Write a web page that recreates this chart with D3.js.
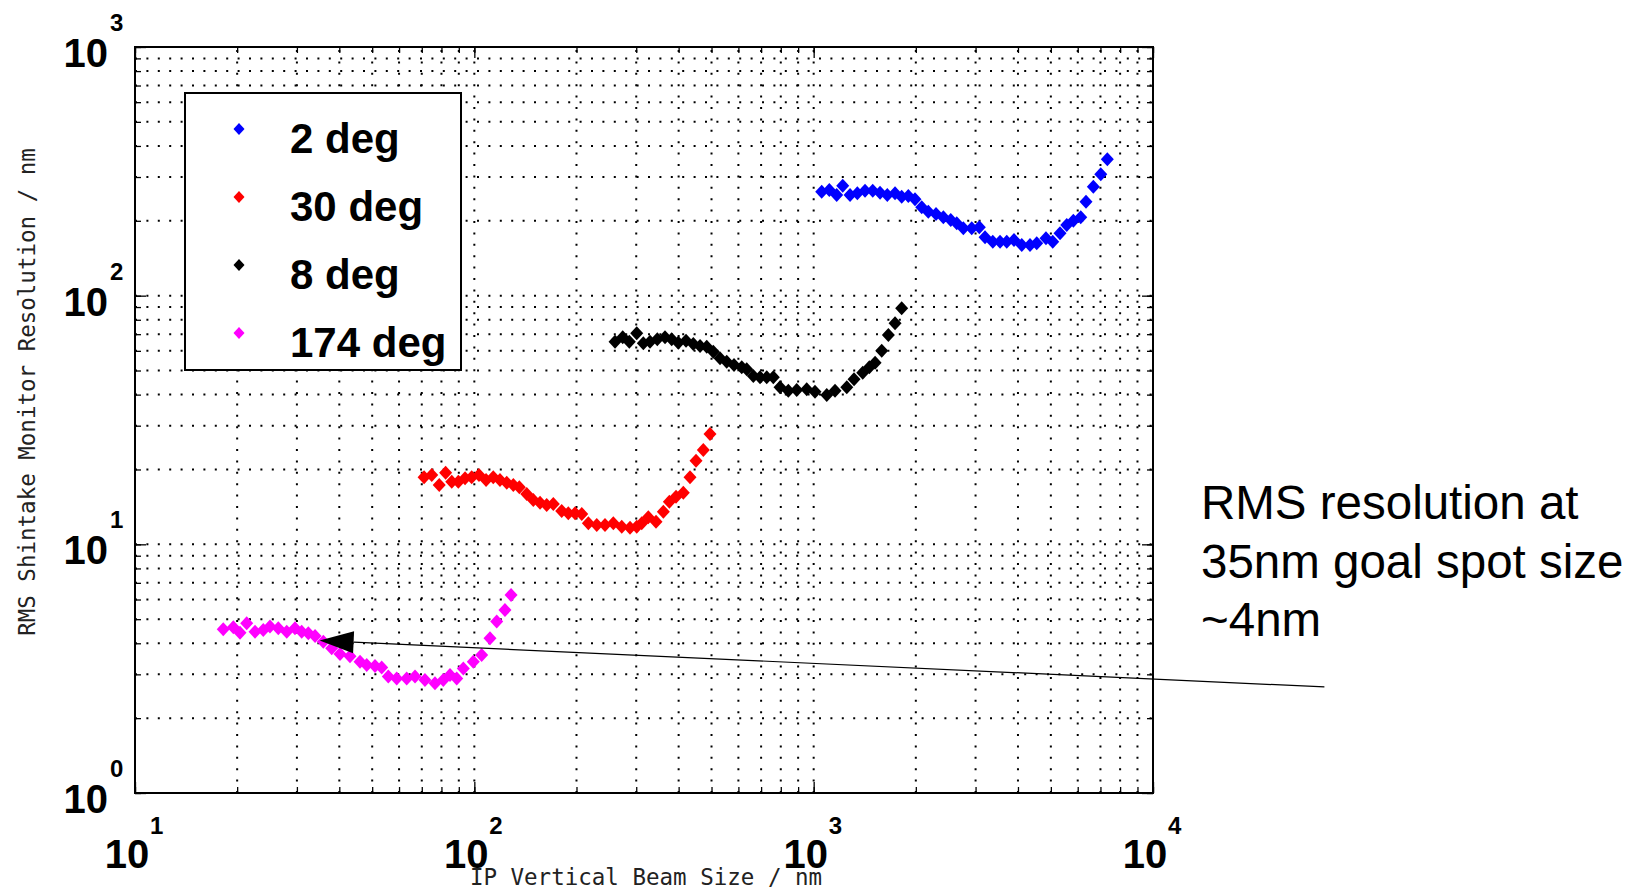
<!DOCTYPE html>
<html>
<head>
<meta charset="utf-8">
<script src="https://cdn.jsdelivr.net/npm/d3@7"></script>
<style>
  body { margin: 0; background: #fff; }
  svg { display: block; }
</style>
</head>
<body>
<div id="chart"></div>
<script>
// values: beam size (nm) vs RMS resolution (nm)
var seriesNames = ["2 deg", "30 deg", "8 deg", "174 deg"];
var seriesColors = ["#0000ff", "#ff0000", "#000000", "#ff00ff"];

var x2deg = [1056, 1112, 1169, 1218, 1280, 1345, 1417, 1493, 1569, 1648, 1737, 1817, 1901, 1989,
  2082, 2177, 2294, 2411, 2535, 2640, 2761, 2923, 3077, 3199, 3372, 3542, 3707, 3894, 4104, 4341,
  4543, 4837, 5064, 5321, 5569, 5825, 6124, 6347, 6671, 7016, 7335];
var y2deg = [261.9, 266.0, 254.0, 276.8, 254.0, 258.0, 264.3, 264.3, 259.5, 254.0, 258.0, 250.0,
  251.6, 244.0, 226.6, 217.6, 213.0, 206.6, 201.6, 195.4, 186.6, 186.6, 188.3, 171.7, 164.8, 164.8,
  164.8, 167.4, 159.8, 159.8, 162.4, 170.1, 164.8, 178.2, 192.4, 200.3, 206.6, 238.7, 274.3, 307.6, 353.5];

var x30deg = [71.1, 74.9, 78.8, 82.3, 85.8, 89.7, 93.9, 98.2, 103.2, 108.3, 113.7, 119.0, 124.6,
  130.3, 135.7, 142.7, 149.2, 156.2, 163.4, 170.9, 180.9, 189.2, 198.1, 207.3, 216.8, 229.5, 242.7,
  256.8, 271.9, 287.6, 301.0, 311.4, 325.6, 343.1, 360.6, 375.6, 393.0, 412.9, 432.1, 450.1, 472.9, 494.9];
var y30deg = [18.60, 19.00, 17.33, 19.42, 17.86, 17.86, 18.43, 18.60, 19.00, 18.14, 18.60, 18.14,
  17.70, 17.33, 16.96, 15.94, 15.08, 14.71, 14.39, 14.53, 13.62, 13.33, 13.33, 13.24, 12.15, 11.96,
  11.96, 12.15, 11.77, 11.67, 11.77, 12.15, 12.85, 12.33, 13.53, 14.84, 15.54, 16.13, 18.60, 21.70,
  23.95, 27.78];

var x8deg = [259.8, 273.7, 286.2, 301.0, 314.8, 329.4, 346.1, 364.7, 381.6, 399.1, 420.6, 441.9,
  462.6, 484.1, 506.0, 529.7, 554.3, 582.5, 613.8, 634.9, 664.0, 695.0, 727.2, 760.5, 795.9, 842.0,
  891.3, 953.9, 1009, 1093, 1156, 1252, 1315, 1395, 1459, 1517, 1587, 1660, 1737, 1817];
var y8deg = [65.30, 68.02, 65.30, 70.57, 64.34, 65.30, 66.76, 68.02, 66.76, 64.70, 65.90, 63.92,
  62.75, 62.35, 59.53, 55.99, 54.26, 52.63, 51.52, 50.57, 47.53, 46.96, 46.96, 46.96, 42.80, 41.48,
  41.75, 42.02, 41.10, 39.86, 41.48, 42.80, 46.09, 48.99, 51.52, 53.76, 60.08, 69.47, 77.42, 88.97];

var x174deg = [18.20, 19.49, 20.39, 21.34, 22.58, 23.88, 24.99, 26.44, 28.00, 29.61, 30.99, 32.42,
  33.93, 35.89, 37.99, 40.19, 43.01, 46.04, 48.18, 50.97, 53.33, 55.78, 59.05, 63.19, 66.87, 71.53,
  76.56, 81.01, 84.78, 88.74, 92.80, 99.30, 105.1, 111.2, 116.4, 123.1, 128.3];
var y174deg = [4.55, 4.64, 4.41, 4.81, 4.45, 4.52, 4.67, 4.60, 4.45, 4.60, 4.45, 4.39, 4.28, 4.06,
  3.82, 3.62, 3.55, 3.37, 3.27, 3.24, 3.20, 2.94, 2.89, 2.89, 2.94, 2.85, 2.76, 2.85, 2.98, 2.89,
  3.17, 3.37, 3.59, 4.19, 4.89, 5.44, 6.26];

// axis decades (exponents of ten)
var xExponents = [1, 2, 3, 4];
var yExponents = [0, 1, 2, 3];
var xTitle = "IP Vertical Beam Size / nm";
var yTitle = "RMS Shintake Monitor Resolution / nm";

// annotation, arrow given in data units
var noteLines = ["RMS resolution at", "35nm goal spot size", "~4nm"];
var arrowTip = [35, 4.1];
var arrowTail = [32000, 2.67];

var W = 1651, H = 894;
var margin = {top: 47, right: 498, bottom: 101, left: 135};

var svg = d3.select("#chart").append("svg")
  .attr("width", W)
  .attr("height", H)
  .style("background", "#fff");

var x = d3.scaleLog()
  .domain([Math.pow(10, xExponents[0]), Math.pow(10, xExponents[xExponents.length - 1])])
  .range([margin.left, W - margin.right]);
var y = d3.scaleLog()
  .domain([Math.pow(10, yExponents[0]), Math.pow(10, yExponents[yExponents.length - 1])])
  .range([H - margin.bottom, margin.top]);

var x0 = x.range()[0], x1 = x.range()[1];
var y0 = y.range()[0], y1 = y.range()[1];

var xMajor = xExponents.map(function(e) { return Math.pow(10, e); });
var yMajor = yExponents.map(function(e) { return Math.pow(10, e); });
var xMinor = x.ticks();
var yMinor = y.ticks();

// dotted grid at every decade step
var grid = svg.append("g").attr("class", "grid")
  .attr("stroke", "#000")
  .attr("stroke-width", 2)
  .attr("stroke-dasharray", "2,9.4");

grid.selectAll(".gx")
  .data(xMinor)
  .enter().append("line")
    .attr("x1", function(d) { return x(d); })
    .attr("x2", function(d) { return x(d); })
    .attr("y1", y0)
    .attr("y2", y1);

grid.selectAll(".gy")
  .data(yMinor)
  .enter().append("line")
    .attr("y1", function(d) { return y(d); })
    .attr("y2", function(d) { return y(d); })
    .attr("x1", x0)
    .attr("x2", x1);

// inward ticks on all four sides
function ticks(axis, tr, vals, len) {
  var g = svg.append("g")
    .attr("transform", tr)
    .call(axis.tickValues(vals).tickSize(-len).tickFormat(""));
  g.select(".domain").remove();
  g.selectAll(".tick line").attr("stroke", "#000").attr("stroke-width", 1.3);
}
[[xMinor, 6], [xMajor, 11]].forEach(function(p) {
  ticks(d3.axisBottom(x), "translate(0," + y0 + ")", p[0], p[1]);
  ticks(d3.axisTop(x), "translate(0," + y1 + ")", p[0], p[1]);
});
[[yMinor, 6], [yMajor, 11]].forEach(function(p) {
  ticks(d3.axisLeft(y), "translate(" + x0 + ",0)", p[0], p[1]);
  ticks(d3.axisRight(y), "translate(" + x1 + ",0)", p[0], p[1]);
});

// frame
svg.append("rect")
  .attr("x", x0).attr("y", y1)
  .attr("width", x1 - x0).attr("height", y0 - y1)
  .attr("fill", "none")
  .attr("stroke", "#000")
  .attr("stroke-width", 2);

// markers
var diamond = "M0,-7L6.5,0L0,7L-6.5,0Z";
var series = [
  {xs: x2deg, ys: y2deg, c: seriesColors[0]},
  {xs: x30deg, ys: y30deg, c: seriesColors[1]},
  {xs: x8deg, ys: y8deg, c: seriesColors[2]},
  {xs: x174deg, ys: y174deg, c: seriesColors[3]}
];
series.forEach(function(s) {
  svg.append("g").selectAll("path")
    .data(s.xs.map(function(v, i) { return [v, s.ys[i]]; }))
    .enter().append("path")
      .attr("d", diamond)
      .attr("transform", function(d) { return "translate(" + x(d[0]) + "," + y(d[1]) + ")"; })
      .attr("fill", s.c);
});

// tick labels, 10 with superscript exponent
var lab = svg.append("g").attr("font-family", "'Liberation Sans', Arial, sans-serif").attr("fill", "#000");
xExponents.forEach(function(e) {
  var px = x(Math.pow(10, e));
  lab.append("text").attr("x", px - 8).attr("y", y0 + 75)
    .attr("text-anchor", "middle").attr("font-size", 40).attr("font-weight", "bold").text("10");
  lab.append("text").attr("x", px + 15).attr("y", y0 + 41)
    .attr("font-size", 24).attr("font-weight", "bold").text(e);
});
yExponents.forEach(function(e) {
  var py = y(Math.pow(10, e));
  lab.append("text").attr("x", x0 - 27).attr("y", py + 20)
    .attr("text-anchor", "end").attr("font-size", 40).attr("font-weight", "bold").text("10");
  lab.append("text").attr("x", x0 - 25).attr("y", py - 16)
    .attr("font-size", 24).attr("font-weight", "bold").text(e);
});

// axis titles
svg.append("text")
  .attr("x", (x0 + x1) / 2 + 2).attr("y", 885)
  .attr("text-anchor", "middle")
  .attr("font-family", "'DejaVu Sans Mono', monospace")
  .attr("font-size", 22.5).attr("fill", "#222")
  .text(xTitle);
svg.append("text")
  .attr("transform", "translate(35,392) rotate(-90)")
  .attr("text-anchor", "middle")
  .attr("font-family", "'DejaVu Sans Mono', monospace")
  .attr("font-size", 22.5).attr("fill", "#222")
  .text(yTitle);

// legend
var leg = svg.append("g").attr("transform", "translate(185,93)");
leg.append("rect")
  .attr("width", 276).attr("height", 277)
  .attr("fill", "#fff").attr("stroke", "#000").attr("stroke-width", 2);
seriesNames.forEach(function(n, i) {
  leg.append("path").attr("d", diamond)
    .attr("transform", "translate(54," + (36 + i * 68) + ") scale(0.85)")
    .attr("fill", seriesColors[i]);
  leg.append("text")
    .attr("x", 105).attr("y", 60 + i * 68)
    .attr("font-family", "'Liberation Sans', Arial, sans-serif")
    .attr("font-size", 42).attr("font-weight", "bold")
    .text(n);
});

// annotation arrow and note
var tip = [x(arrowTip[0]), y(arrowTip[1])];
var tail = [x(arrowTail[0]), y(arrowTail[1])];
var ang = Math.atan2(tail[1] - tip[1], tail[0] - tip[0]);
var headLen = 34, headHalf = 11;
var bx = tip[0] + headLen * Math.cos(ang), by = tip[1] + headLen * Math.sin(ang);
svg.append("line")
  .attr("x1", tail[0]).attr("y1", tail[1])
  .attr("x2", bx).attr("y2", by)
  .attr("stroke", "#000").attr("stroke-width", 1.2);
svg.append("path")
  .attr("d", "M" + tip[0] + "," + tip[1] +
    "L" + (bx - headHalf * Math.sin(ang)) + "," + (by + headHalf * Math.cos(ang)) +
    "L" + (bx + headHalf * Math.sin(ang)) + "," + (by - headHalf * Math.cos(ang)) + "Z")
  .attr("fill", "#000");

svg.append("g").selectAll("text")
  .data(noteLines)
  .enter().append("text")
    .attr("x", 1201)
    .attr("y", function(d, i) { return 519 + i * 58.5; })
    .attr("font-family", "'Liberation Sans', Arial, sans-serif")
    .attr("font-size", 47.5)
    .attr("fill", "#000")
    .text(function(d) { return d; });
</script>
</body>
</html>
